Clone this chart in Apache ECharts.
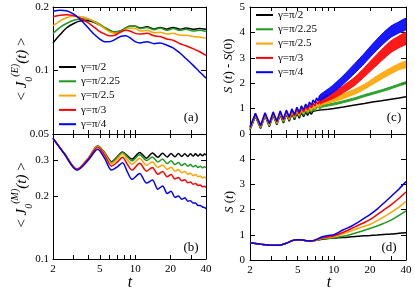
<!DOCTYPE html>
<html><head><meta charset="utf-8">
<script src="https://cdn.jsdelivr.net/npm/echarts@6/dist/echarts.min.js"></script>
<style>html,body{margin:0;padding:0;background:#fff}#c{width:415px;height:291px}</style>
</head><body><div id="c"></div>
<script>
const NAMES = ['γ=π/2', 'γ=π/2.25', 'γ=π/2.5', 'γ=π/3', 'γ=π/4'];
const COLORS = ['#000000', '#1f9a1f', '#ffa500', '#ff0000', '#0000ff'];

const X_TICKS = [2, 3, 4, 5, 6, 7, 8, 9, 10, 20, 30, 40];
const X_LABELS = [2, 5, 10, 20, 40];
const YA_LABELS = [0.05, 0.1, 0.2];
const YB_LABELS = [0.1, 0.2, 0.3];
const YC_LABELS = [0, 1, 2, 3, 4, 5];
const YD_LABELS = [0, 1, 2, 3, 4];

// panel (a)
const T_A = [2, 2.3, 2.6, 3, 3.5, 4, 4.5, 5, 5.5, 6, 6.7, 7.5, 8.3, 9, 10, 11, 12.6, 14.5, 16.3, 18.5, 21, 24, 27, 31, 35, 40];
const A_BLACK = [0.135,0.148,0.159,0.167,0.172,0.172,0.169,0.164,0.159,0.155,0.152,0.154,0.159,0.162,0.162,0.159,0.161,0.157,0.160,0.157,0.160,0.157,0.159,0.157,0.158,0.157];
const A_GREEN = [0.150,0.160,0.167,0.173,0.176,0.175,0.171,0.166,0.160,0.156,0.152,0.154,0.159,0.162,0.162,0.158,0.160,0.156,0.159,0.155,0.158,0.155,0.157,0.154,0.155,0.153];
const A_ORANGE = [0.163,0.172,0.178,0.181,0.180,0.176,0.170,0.164,0.158,0.153,0.150,0.152,0.157,0.159,0.158,0.154,0.155,0.151,0.152,0.149,0.150,0.147,0.147,0.145,0.144,0.142];
const A_RED = [0.180,0.183,0.184,0.182,0.176,0.168,0.160,0.153,0.149,0.146,0.147,0.152,0.155,0.154,0.150,0.149,0.150,0.146,0.145,0.141,0.139,0.134,0.131,0.127,0.123,0.118];
const A_BLUE = [0.191,0.193,0.192,0.185,0.172,0.159,0.148,0.141,0.137,0.137,0.140,0.145,0.146,0.143,0.137,0.135,0.137,0.134,0.135,0.132,0.128,0.121,0.114,0.106,0.099,0.092];

// panel (b)
const T_B = [2, 2.5, 3.2, 4, 4.8, 5.5, 6.3, 7, 7.8, 8.6, 9.4, 10.9, 12.5, 14, 15.6, 17.1, 18.7, 20.2, 21.8, 23.3, 24.9, 26.4, 28, 29.5, 31.1, 32.6, 34.2, 35.7, 37.3, 38.8, 40];
const B_BLACK = [0.381,0.322,0.270,0.305,0.350,0.325,0.294,0.310,0.328,0.314,0.303,0.326,0.306,0.324,0.309,0.323,0.310,0.322,0.311,0.322,0.312,0.321,0.312,0.321,0.313,0.321,0.313,0.320,0.314,0.320,0.317];
const B_GREEN = [0.381,0.322,0.270,0.305,0.350,0.324,0.292,0.308,0.326,0.310,0.297,0.318,0.298,0.310,0.293,0.303,0.288,0.297,0.285,0.292,0.282,0.288,0.280,0.285,0.278,0.282,0.276,0.280,0.275,0.278,0.275];
const B_ORANGE = [0.381,0.322,0.271,0.306,0.348,0.321,0.288,0.302,0.320,0.300,0.286,0.306,0.283,0.294,0.276,0.284,0.270,0.277,0.265,0.270,0.260,0.264,0.256,0.259,0.252,0.255,0.249,0.251,0.246,0.248,0.245];
const B_RED = [0.381,0.322,0.271,0.305,0.345,0.316,0.280,0.292,0.309,0.285,0.268,0.289,0.265,0.276,0.256,0.264,0.249,0.255,0.243,0.247,0.238,0.241,0.233,0.235,0.229,0.231,0.226,0.227,0.223,0.224,0.221];
const B_BLUE = [0.381,0.320,0.268,0.300,0.338,0.305,0.268,0.277,0.291,0.262,0.242,0.258,0.232,0.240,0.217,0.225,0.207,0.212,0.198,0.201,0.194,0.197,0.190,0.191,0.186,0.186,0.181,0.181,0.178,0.177,0.175];

// panel (c): early zigzag and later band (centre, half width)
const T_C_BLACK = [2.0,2.22,2.45,2.67,2.9,3.12,3.35,3.57,3.8,4.02,4.25,4.47,4.7,4.92,5.15,5.37,5.6,5.82,6.05,6.27,6.5,6.72,6.95,7.17,7.4,7.62,7.85,8.5,9,10,12,15,18,21,25,30,35,40];
const C_BLACK = [0.16,0.70,0.22,0.72,0.29,0.74,0.36,0.76,0.43,0.78,0.50,0.80,0.56,0.82,0.62,0.84,0.68,0.86,0.73,0.88,0.78,0.90,0.83,0.92,0.87,0.94,0.90,0.96,0.97,1.00,1.06,1.14,1.20,1.26,1.31,1.37,1.42,1.47];
const T_ZIG = [2.0,2.22,2.45,2.67,2.9,3.12,3.35,3.57,3.8,4.02,4.25,4.47,4.7,4.92,5.15,5.37,5.6,5.82,6.05,6.27,6.5,6.72,6.95,7.17,7.4,7.62];
const C_GREEN_ZIG = [0.19,0.73,0.25,0.75,0.32,0.77,0.39,0.79,0.47,0.82,0.54,0.85,0.61,0.87,0.68,0.90,0.74,0.93,0.80,0.96,0.86,0.99,0.91,1.03,0.97,1.07];
const C_ORANGE_ZIG = [0.22,0.76,0.28,0.78,0.35,0.81,0.43,0.83,0.51,0.86,0.58,0.89,0.66,0.93,0.73,0.97,0.80,1.01,0.87,1.05,0.93,1.10,0.99,1.15,1.05,1.20];
const C_RED_ZIG = [0.25,0.79,0.31,0.81,0.39,0.84,0.47,0.87,0.55,0.90,0.63,0.94,0.71,0.99,0.79,1.04,0.87,1.09,0.95,1.15,1.03,1.21,1.10,1.28,1.17,1.34];
const C_BLUE_ZIG = [0.28,0.82,0.34,0.84,0.42,0.87,0.51,0.91,0.59,0.94,0.68,0.99,0.77,1.05,0.86,1.11,0.95,1.18,1.04,1.26,1.13,1.34,1.22,1.42,1.30,1.50];
const T_BAND = [7.6, 8, 9, 10, 12, 15, 18, 21, 25, 30, 35, 40];
const C_GREEN_MID = [1.02,1.10,1.14,1.18,1.27,1.39,1.51,1.60,1.70,1.82,1.93,2.02];
const C_GREEN_HALF = [0.05,0.05,0.04,0.04,0.04,0.04,0.04,0.04,0.04,0.04,0.04,0.04];
const C_ORANGE_MID = [1.12,1.22,1.29,1.36,1.48,1.67,1.86,2.06,2.28,2.49,2.65,2.74];
const C_ORANGE_HALF = [0.07,0.08,0.08,0.09,0.09,0.10,0.10,0.11,0.12,0.12,0.12,0.12];
const C_RED_MID = [1.25,1.33,1.44,1.54,1.76,2.08,2.43,2.75,3.10,3.44,3.63,3.77];
const C_RED_HALF = [0.10,0.11,0.12,0.13,0.14,0.16,0.18,0.20,0.22,0.23,0.23,0.23];
const C_BLUE_MID = [1.40,1.48,1.64,1.80,2.13,2.59,2.98,3.33,3.70,4.03,4.20,4.33];
const C_BLUE_HALF = [0.12,0.13,0.14,0.15,0.17,0.19,0.20,0.21,0.22,0.22,0.22,0.22];

// panel (d)
const T_D = [2, 2.5, 3, 3.5, 4, 4.5, 5, 5.5, 6, 6.5, 7, 8, 9, 10, 12, 14, 16, 18, 20, 23, 26, 30, 35, 40];
const D_BLACK = [0.68,0.62,0.59,0.59,0.66,0.77,0.80,0.79,0.76,0.75,0.77,0.82,0.85,0.87,0.89,0.92,0.94,0.96,0.97,0.99,1.01,1.03,1.06,1.08];
const D_GREEN = [0.68,0.62,0.59,0.59,0.66,0.77,0.80,0.79,0.76,0.75,0.77,0.84,0.86,0.88,0.94,1.02,1.10,1.18,1.25,1.35,1.45,1.58,1.77,1.95];
const D_ORANGE = [0.68,0.62,0.59,0.59,0.66,0.77,0.80,0.79,0.76,0.75,0.78,0.86,0.89,0.92,1.04,1.16,1.26,1.34,1.41,1.56,1.70,1.89,2.10,2.32];
const D_RED = [0.68,0.62,0.59,0.59,0.66,0.77,0.80,0.79,0.76,0.75,0.79,0.88,0.92,0.96,1.10,1.25,1.38,1.49,1.60,1.80,1.98,2.19,2.45,2.70];
const D_BLUE = [0.68,0.62,0.59,0.59,0.66,0.77,0.80,0.79,0.76,0.75,0.80,0.92,0.97,1.00,1.20,1.34,1.50,1.66,1.80,2.02,2.25,2.52,2.82,3.11];

const SERIF = '"Liberation Serif","DejaVu Serif",serif';
const fmt = v => String(+(+v).toPrecision(3));
const pairs = (ts, vs) => ts.map((t, i) => [t, vs[i]]);

function xAxis(gi, pos, showLabels) {
  return {
    type: 'log', logBase: 10, gridIndex: gi, position: pos, min: 2, max: 40,
    axisLine: {show: true, onZero: false, lineStyle: {color: '#000', width: 1}},
    axisTick: {show: true, inside: true, length: 4, customValues: X_TICKS, lineStyle: {color: '#000', width: 1}},
    axisLabel: {show: showLabels, customValues: X_LABELS, formatter: fmt, fontFamily: SERIF, fontSize: 11, color: '#000', margin: 5},
    splitLine: {show: false}
  };
}
function yLog(gi, pos, min, max, labels, showLabels) {
  return {
    type: 'log', logBase: 10, gridIndex: gi, position: pos, min: min, max: max,
    axisLine: {show: true, onZero: false, lineStyle: {color: '#000', width: 1}},
    axisTick: {show: true, inside: true, length: 5, customValues: labels, lineStyle: {color: '#000', width: 1}},
    axisLabel: {show: showLabels, customValues: labels, formatter: fmt, fontFamily: SERIF, fontSize: 11, color: '#000', margin: 4},
    splitLine: {show: false}
  };
}
function yLin(gi, pos, labels, showLabels) {
  return {
    type: 'value', gridIndex: gi, position: pos, min: 0, max: 5, interval: 1,
    axisLine: {show: true, onZero: false, lineStyle: {color: '#000', width: 1}},
    axisTick: {show: true, inside: true, length: 5, customValues: YC_LABELS, lineStyle: {color: '#000', width: 1}},
    axisLabel: {show: showLabels, customValues: labels, fontFamily: SERIF, fontSize: 11, color: '#000', margin: 5},
    splitLine: {show: false}
  };
}

function line(gi, name, color, ts, vs, smooth) {
  return {
    type: 'line', name: name, xAxisIndex: 2 * gi, yAxisIndex: 2 * gi, color: color,
    data: pairs(ts, vs), symbol: 'none', showSymbol: false, smooth: smooth,
    lineStyle: {width: 1.5, color: color}, z: 3
  };
}
// filled band between (mid - half) and (mid + half), placed with the axes' own coord()
function band(gi, key, color, ts, mid, half) {
  return {
    type: 'custom', name: 'band-' + key, xAxisIndex: 2 * gi, yAxisIndex: 2 * gi, silent: true, clip: true, z: 3,
    data: ts.map((t, i) => [t, mid[i], half[i]]),
    encode: {x: 0, y: 1},
    renderItem: function (params, api) {
      if (params.dataIndex !== 0) return null;
      const top = [], bot = [];
      for (let i = 0; i < ts.length; i++) {
        top.push(api.coord([ts[i], mid[i] + half[i]]));
        bot.push(api.coord([ts[i], mid[i] - half[i]]));
      }
      return {
        type: 'polygon',
        shape: {points: top.concat(bot.reverse()), smooth: 0.2},
        style: {fill: color, opacity: 0.9, stroke: color, lineWidth: 1}
      };
    }
  };
}

const A_SETS = [A_BLACK, A_GREEN, A_ORANGE, A_RED, A_BLUE];
const B_SETS = [B_BLACK, B_GREEN, B_ORANGE, B_RED, B_BLUE];
const D_SETS = [D_BLACK, D_GREEN, D_ORANGE, D_RED, D_BLUE];
const ZIGS = [null, C_GREEN_ZIG, C_ORANGE_ZIG, C_RED_ZIG, C_BLUE_ZIG];
const MIDS = [null, C_GREEN_MID, C_ORANGE_MID, C_RED_MID, C_BLUE_MID];
const HALVES = [null, C_GREEN_HALF, C_ORANGE_HALF, C_RED_HALF, C_BLUE_HALF];

const series = [];
for (let k = 0; k < 5; k++) series.push(line(0, NAMES[k], COLORS[k], T_A, A_SETS[k], 0.3));
for (let k = 0; k < 5; k++) series.push(line(1, NAMES[k], COLORS[k], T_B, B_SETS[k], 0.3));
series.push(line(2, NAMES[0], COLORS[0], T_C_BLACK, C_BLACK, false));
for (let k = 1; k < 5; k++) {
  series.push(line(2, NAMES[k], COLORS[k], T_ZIG, ZIGS[k], false));
  series.push(band(2, k, COLORS[k], T_BAND, MIDS[k], HALVES[k]));
}
for (let k = 0; k < 5; k++) series.push(line(3, NAMES[k], COLORS[k], T_D, D_SETS[k], 0.3));

function legend(left, top) {
  return {
    data: NAMES, orient: 'vertical', left: left, top: top, icon: 'rect', padding: 0,
    itemWidth: 17, itemHeight: 2, itemGap: 0.3, selectedMode: false,
    textStyle: {fontFamily: SERIF, fontSize: 11, color: '#000', lineHeight: 14}
  };
}

const richJ = {
  n: {fontFamily: SERIF, fontSize: 15, lineHeight: 24, fill: '#000'},
  i: {fontFamily: SERIF, fontSize: 15, fontStyle: 'italic', fill: '#000'},
  sub: {fontFamily: SERIF, fontSize: 10, fontStyle: 'italic', verticalAlign: 'bottom', fill: '#000'},
  sup: {fontFamily: SERIF, fontSize: 10, fontStyle: 'italic', verticalAlign: 'top', fill: '#000'}
};
const richS = {
  n: {fontFamily: SERIF, fontSize: 13, fill: '#000'},
  i: {fontFamily: SERIF, fontSize: 13, fontStyle: 'italic', fill: '#000'}
};
function txt(x, y, text, size, italic, rot, rich) {
  return {
    type: 'text', x: x, y: y, rotation: rot || 0, z: 10,
    style: {text: text, rich: rich, fontFamily: SERIF, fontSize: size, fontStyle: italic ? 'italic' : 'normal',
      fill: '#000', align: 'center', verticalAlign: 'middle', textAlign: 'center', textVerticalAlign: 'middle'}
  };
}

const option = {
  animation: false,
  backgroundColor: '#fff',
  grid: [
    {left: 53, top: 7, width: 153, height: 127},
    {left: 53, top: 134, width: 153, height: 125},
    {left: 250, top: 7, width: 156, height: 127},
    {left: 250, top: 134, width: 156, height: 126}
  ],
  xAxis: [
    xAxis(0, 'bottom', false), xAxis(0, 'top', false),
    xAxis(1, 'bottom', true), xAxis(1, 'top', false),
    xAxis(2, 'bottom', false), xAxis(2, 'top', false),
    xAxis(3, 'bottom', true), xAxis(3, 'top', false)
  ],
  yAxis: [
    yLog(0, 'left', 0.05, 0.2, YA_LABELS, true), yLog(0, 'right', 0.05, 0.2, YA_LABELS, false),
    yLog(1, 'left', 0.1, 0.4, YB_LABELS, true), yLog(1, 'right', 0.1, 0.4, YB_LABELS, false),
    yLin(2, 'left', YC_LABELS, true), yLin(2, 'right', YC_LABELS, false),
    yLin(3, 'left', YD_LABELS, true), yLin(3, 'right', YD_LABELS, false)
  ],
  legend: [legend(59, 60), legend(256, 8)],
  series: series,
  graphic: [
    txt(22, 69, '{n|< }{i|J}{sub|0}{sup|(E)}{i|(t)}{n| >}', 15, false, Math.PI / 2, richJ),
    txt(22, 195, '{n|< }{i|J}{sub|0}{sup|(M)}{i|(t)}{n| >}', 15, false, Math.PI / 2, richJ),
    txt(229, 66, '{i|S} {n|(}{i|t}{n|) - }{i|S}{n|(0)}', 13, false, Math.PI / 2, richS),
    txt(230, 202, '{i|S} {n|(}{i|t}{n|)}', 13, false, Math.PI / 2, richS),
    txt(130, 283, 't', 16, true),
    txt(329, 283, 't', 16, true),
    txt(191, 118, '(a)', 13, false),
    txt(191, 248, '(b)', 13, false),
    txt(394, 118, '(c)', 13, false),
    txt(389, 248, '(d)', 13, false)
  ]
};
echarts.init(document.getElementById('c'), null, {renderer: 'canvas'}).setOption(option);
</script></body></html>
